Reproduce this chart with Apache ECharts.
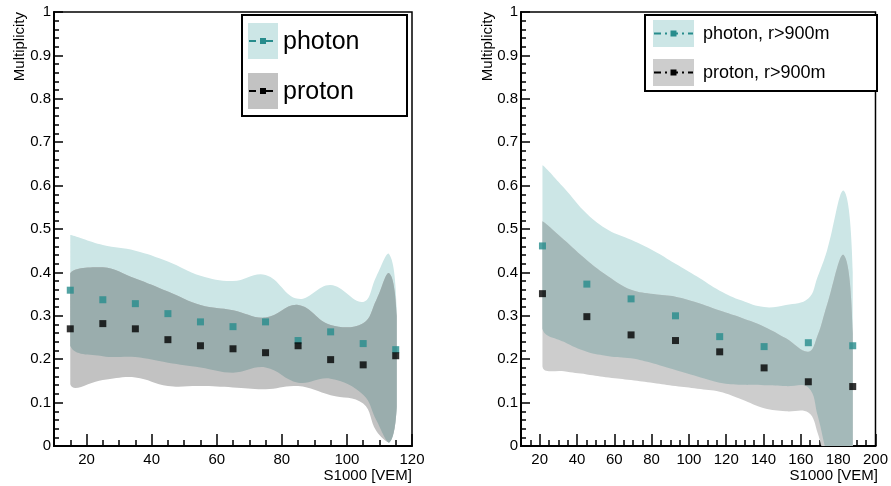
<!DOCTYPE html>
<html>
<head>
<meta charset="utf-8">
<script src="https://cdn.jsdelivr.net/npm/echarts@6/dist/echarts.min.js"></script>
<style>
html, body { margin: 0; background: #fff; }
#main { width: 891px; height: 486px; }
</style>
</head>
<body>
<div id="main"></div>
<script>
// left panel (all distances)
var binsL = [15, 25, 35, 45, 55, 65, 75, 85, 95, 105, 115];
var photonL = [0.359, 0.337, 0.328, 0.305, 0.286, 0.275, 0.286, 0.243, 0.263, 0.236, 0.222];
var protonL = [0.270, 0.282, 0.270, 0.245, 0.231, 0.224, 0.215, 0.231, 0.199, 0.187, 0.208];

// band knots, left panel
var bandXL = [15, 25, 35, 45, 55, 65, 75, 85, 95, 105, 109, 113, 115.3];
var photonHiL = [0.486, 0.463, 0.450, 0.425, 0.392, 0.380, 0.394, 0.339, 0.371, 0.332, 0.390, 0.442, 0.320];
var photonLoL = [0.231, 0.207, 0.205, 0.192, 0.181, 0.169, 0.181, 0.146, 0.155, 0.118, 0.060, 0.008, 0.090];
var protonHiL = [0.398, 0.412, 0.386, 0.356, 0.325, 0.313, 0.296, 0.325, 0.279, 0.283, 0.336, 0.398, 0.300];
var protonLoL = [0.142, 0.152, 0.158, 0.138, 0.138, 0.135, 0.131, 0.138, 0.117, 0.098, 0.035, 0.008, 0.090];

// right panel (r > 900 m)
var binsR = [21.5, 45.3, 69, 92.8, 116.5, 140.3, 164, 187.8];
var photonR = [0.461, 0.373, 0.339, 0.300, 0.252, 0.229, 0.238, 0.231];
var protonR = [0.351, 0.298, 0.256, 0.243, 0.217, 0.180, 0.148, 0.137];

// band knots, right panel
var bandXR = [21.5, 33, 45.3, 57, 69, 81, 92.8, 104.6, 116.5, 128.4, 140.3, 152, 164, 169, 174, 183, 187.8];
var photonHiR = [0.647, 0.595, 0.535, 0.497, 0.475, 0.450, 0.420, 0.390, 0.358, 0.335, 0.320, 0.325, 0.340, 0.390, 0.450, 0.588, 0.400];
var photonLoR = [0.271, 0.240, 0.217, 0.207, 0.202, 0.190, 0.175, 0.160, 0.146, 0.141, 0.140, 0.138, 0.135, 0.070, -0.020, -0.150, -0.150];
var protonHiR = [0.517, 0.475, 0.428, 0.390, 0.360, 0.350, 0.344, 0.330, 0.312, 0.295, 0.275, 0.248, 0.217, 0.255, 0.325, 0.440, 0.260];
var protonLoR = [0.183, 0.172, 0.165, 0.158, 0.152, 0.145, 0.138, 0.132, 0.125, 0.107, 0.087, 0.080, 0.077, 0.030, -0.050, -0.150, -0.150];

// axis ticks
var xTicksL = [20, 40, 60, 80, 100, 120];
var xMinorL = [15, 20, 25, 30, 35, 40, 45, 50, 55, 60, 65, 70, 75, 80, 85, 90, 95, 100, 105, 110, 115];
var xTicksR = [20, 40, 60, 80, 100, 120, 140, 160, 180, 200];
var xMinorR = [15, 20, 25, 30, 35, 40, 45, 50, 55, 60, 65, 70, 75, 80, 85, 90, 95, 100, 105, 110, 115,
               120, 125, 130, 135, 140, 145, 150, 155, 160, 165, 170, 175, 180, 185, 190, 195];

var FONT = 'Liberation Sans';
var TEAL = '#278c8c';
var CYAN = '#cce6e6';
var GRAY_L = '#c2c2c2', DARK_L = '#9aadad';
var GRAY_R = '#cdcdcd', DARK_R = '#a4b9b9';

function mainX(grid, max, ticks) {
    return {
        type: 'value', gridIndex: grid, position: 'bottom', min: 10, max: max,
        axisLine: { lineStyle: { color: '#000', width: 2 } },
        axisTick: { inside: true, length: 12, customValues: ticks, lineStyle: { color: '#000', width: 1.5 } },
        axisLabel: { customValues: ticks, color: '#000', fontSize: 15, fontFamily: FONT, margin: 6 },
        splitLine: { show: false }
    };
}

function minorX(grid, max, ticks) {
    return {
        type: 'value', gridIndex: grid, position: 'bottom', min: 10, max: max,
        axisLine: { show: false },
        axisTick: { inside: true, length: 6, customValues: ticks, lineStyle: { color: '#000', width: 1.5 } },
        axisLabel: { show: false },
        splitLine: { show: false }
    };
}

function yAx(grid) {
    return {
        type: 'value', gridIndex: grid, min: 0, max: 1, interval: 0.1,
        axisLine: { show: true, lineStyle: { color: '#000', width: 2 } },
        axisTick: { show: true, inside: true, length: 9, lineStyle: { color: '#000', width: 1.5 } },
        minorTick: { show: true, splitNumber: 5, length: 5, lineStyle: { color: '#000', width: 1.5 } },
        axisLabel: { color: '#000', fontSize: 15, fontFamily: FONT, margin: 3 },
        splitLine: { show: false }
    };
}

// where both bands cover the same range
function both(a, b, pick) {
    return a.map(function (v, i) { return pick(v, b[i]); });
}

// band drawn as a smoothed closed polygon
function band(xi, yi, xs, lo, hi, color, z) {
    return {
        type: 'custom', xAxisIndex: xi, yAxisIndex: yi, z: z, silent: true, clip: true,
        data: [[xs[0], lo[0]]],
        renderItem: function (params, api) {
            var pts = [], i;
            for (i = 0; i < xs.length; i++) pts.push(api.coord([xs[i], hi[i]]));
            for (i = xs.length - 1; i >= 0; i--) pts.push(api.coord([xs[i], lo[i]]));
            return {
                type: 'polygon',
                shape: { points: pts, smooth: 0.4, smoothConstraint: [pts[0], pts[0]] },
                style: { fill: color }
            };
        }
    };
}

function dots(xi, yi, xs, ys, color) {
    return {
        type: 'scatter', xAxisIndex: xi, yAxisIndex: yi, z: 6, silent: true,
        symbol: 'rect', symbolSize: 7,
        itemStyle: { color: color },
        data: xs.map(function (x, i) { return [x, ys[i]]; })
    };
}

function legendEntry(x, y, w, h, fill, lineColor, label, size, tx) {
    var cy = y + h / 2;
    return [
        { type: 'rect', shape: { x: x, y: y, width: w, height: h }, style: { fill: fill } },
        { type: 'line', shape: { x1: x + 1, y1: cy, x2: x + w - 1, y2: cy },
          style: { stroke: lineColor, lineWidth: 2, lineDash: [7, 4, 2, 4] } },
        { type: 'rect', shape: { x: x + w / 2 - 3, y: cy - 3, width: 6, height: 6 }, style: { fill: lineColor } },
        { type: 'text', x: tx, y: cy + 1,
          style: { text: label, fill: '#000', fontSize: size, fontFamily: FONT, verticalAlign: 'middle' } }
    ];
}

function axisText(x, y, txt, rot, align) {
    return { type: 'text', x: x, y: y, rotation: rot,
             style: { text: txt, fill: '#000', fontSize: 15, fontFamily: FONT, align: align, verticalAlign: 'middle' } };
}

var graphics = [
    { type: 'rect', shape: { x: 242, y: 15, width: 165, height: 101 }, style: { fill: '#fff', stroke: '#000', lineWidth: 2 } },
    { type: 'rect', shape: { x: 645, y: 15, width: 232, height: 76 }, style: { fill: '#fff', stroke: '#000', lineWidth: 2 } },
    axisText(20, 12, 'Multiplicity', Math.PI / 2, 'right'),
    axisText(488, 12, 'Multiplicity', Math.PI / 2, 'right'),
    axisText(412, 476, 'S1000 [VEM]', 0, 'right'),
    axisText(878, 476, 'S1000 [VEM]', 0, 'right')
].concat(
    legendEntry(248, 23, 30, 36, CYAN, TEAL, 'photon', 25, 283),
    legendEntry(248, 73, 30, 36, GRAY_L, '#000', 'proton', 25, 283),
    legendEntry(653, 20, 41, 27, CYAN, TEAL, 'photon, r>900m', 18, 703),
    legendEntry(653, 59, 41, 27, GRAY_R, '#000', 'proton, r>900m', 18, 703)
);

var chart = echarts.init(document.getElementById('main'));
chart.setOption({
    animation: false,
    backgroundColor: '#fff',
    grid: [
        { left: 54, top: 12, width: 358, height: 434, show: true, borderColor: '#000', borderWidth: 1.5 },
        { left: 521, top: 12, width: 358, height: 434, show: true, borderColor: '#000', borderWidth: 1.5 }
    ],
    xAxis: [mainX(0, 120, xTicksL), minorX(0, 120, xMinorL), mainX(1, 200, xTicksR), minorX(1, 200, xMinorR)],
    yAxis: [yAx(0), yAx(1)],
    graphic: { elements: graphics.map(function (g) { g.z = 100; return g; }) },
    series: [
        band(0, 0, bandXL, photonLoL, photonHiL, CYAN, 2),
        band(0, 0, bandXL, protonLoL, protonHiL, GRAY_L, 3),
        band(0, 0, bandXL, both(photonLoL, protonLoL, Math.max), both(photonHiL, protonHiL, Math.min), DARK_L, 4),
        dots(0, 0, binsL, photonL, TEAL),
        dots(0, 0, binsL, protonL, '#000'),
        band(2, 1, bandXR, photonLoR, photonHiR, CYAN, 2),
        band(2, 1, bandXR, protonLoR, protonHiR, GRAY_R, 3),
        band(2, 1, bandXR, both(photonLoR, protonLoR, Math.max), both(photonHiR, protonHiR, Math.min), DARK_R, 4),
        dots(2, 1, binsR, photonR, TEAL),
        dots(2, 1, binsR, protonR, '#000')
    ]
});
</script>
</body>
</html>
